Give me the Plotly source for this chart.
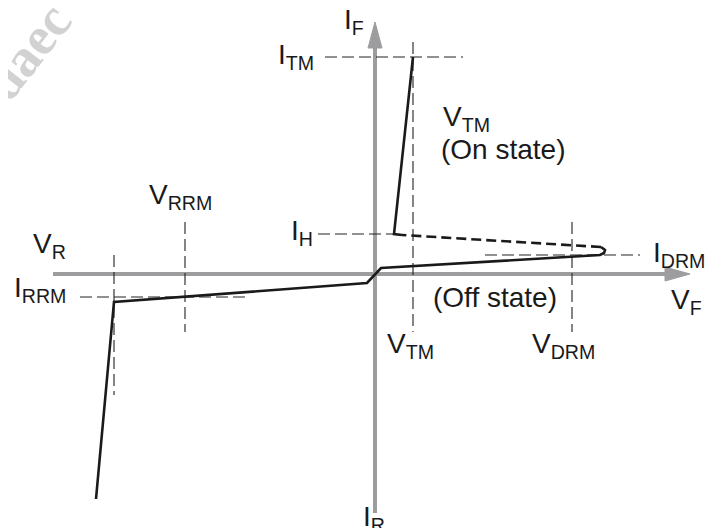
import plotly.graph_objects as go

# diagram units: origin where the two axes cross, y up
curve_x = [-279, -261, -8, 6, 225, 229, 230, 226]
curve_y = [-225, -28, -9, 6, 19, 21, 24, 27]
hold_x = [226, 27]
hold_y = [27, 39]
on_x = [27, 19, 38]
on_y = [39, 40, 217]

# dashed reference lines: (x0, y0, x1, y1)
ref_lines = {
    "ITM": (-50, 217, 88, 217),
    "VTM": (38, 232, 38, -58),
    "IH": (-57, 40, 19, 40),
    "IDRM": (110, 19, 265, 19),
    "VDRM": (197, 52, 197, -58),
    "VRRM": (-190, 52, -190, -58),
    "IRRM": (-295, -23, -128, -23),
    "VR": (-261, 19, -261, -121),
}

axis_h = ([-322, 292], [0, 0])
axis_v = ([0, 0], [-239, 228])
head_h = ([290, 315, 290, 290], [7, 0, -7, 7])
head_v = ([-7, 0, 7, -7], [226, 252, 226, 226])

# labels: text, x, y
labels = [
    ("I<sub>F</sub>", -33, 253),
    ("I<sub>TM</sub>", -99, 218),
    ("V<sub>TM</sub>", 66, 156),
    ("(On state)", 64, 125),
    ("V<sub>RRM</sub>", -228, 78),
    ("V<sub>R</sub>", -344, 29),
    ("I<sub>H</sub>", -86, 42),
    ("I<sub>RRM</sub>", -363, -15),
    ("I<sub>DRM</sub>", 276, 20),
    ("(Off state)", 56, -23),
    ("V<sub>F</sub>", 294, -27),
    ("V<sub>TM</sub>", 10, -71),
    ("V<sub>DRM</sub>", 155, -71),
    ("I<sub>R</sub>", -14, -244),
]

gray = "#9d9d9f"
fig = go.Figure()

fig.add_trace(go.Scatter(x=axis_h[0], y=axis_h[1], mode="lines",
                         line=dict(color=gray, width=4)))
fig.add_trace(go.Scatter(x=axis_v[0], y=axis_v[1], mode="lines",
                         line=dict(color=gray, width=4)))
for hx, hy in (head_h, head_v):
    fig.add_trace(go.Scatter(x=hx, y=hy, mode="lines", fill="toself",
                             fillcolor=gray, line=dict(color=gray, width=1)))

for x0, y0, x1, y1 in ref_lines.values():
    fig.add_trace(go.Scatter(x=[x0, x1], y=[y0, y1], mode="lines",
                             line=dict(color="#222", width=1.1, dash="12px,5px")))

fig.add_trace(go.Scatter(x=curve_x, y=curve_y, mode="lines",
                         line=dict(color="#1a1a1a", width=2.6)))
fig.add_trace(go.Scatter(x=hold_x, y=hold_y, mode="lines",
                         line=dict(color="#1a1a1a", width=2.6, dash="10px,5px")))
fig.add_trace(go.Scatter(x=on_x, y=on_y, mode="lines",
                         line=dict(color="#1a1a1a", width=2.6)))

for txt, x, y in labels:
    fig.add_annotation(x=x, y=y, text=txt, showarrow=False, xanchor="left",
                       yanchor="middle",
                       font=dict(family="Liberation Sans, Arial", size=28, color="#1a1a1a"))

# watermark remnant in the corner
fig.add_annotation(x=-348, y=222, text="daec", showarrow=False, textangle=-52,
                   font=dict(family="Liberation Serif", size=54, color="#d2d2d2",
                             weight="bold"))

# page body has an 8px margin, so the ranges are offset by 8 units
fig.update_layout(
    width=721, height=528, autosize=False,
    margin=dict(l=0, r=0, t=0, b=0),
    plot_bgcolor="white", paper_bgcolor="white",
    showlegend=False,
    xaxis=dict(range=[-367, 354], visible=False, fixedrange=True),
    yaxis=dict(range=[-262, 266], visible=False, fixedrange=True),
)

fig.write_html("out.html")
